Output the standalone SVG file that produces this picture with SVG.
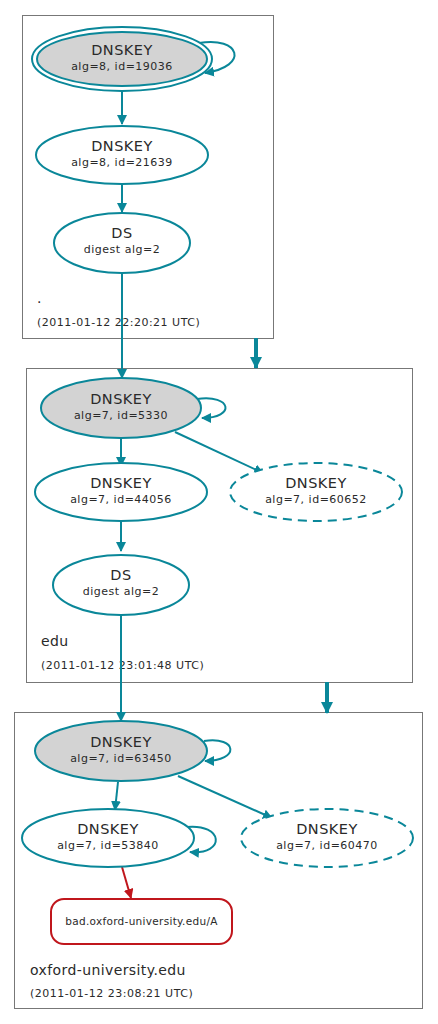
<svg xmlns="http://www.w3.org/2000/svg" width="438" height="1024" viewBox="0 0 438 1024">
<defs>
<style>
.cl{fill:#fff;stroke:#777;stroke-width:1}
.n{fill:#fff;stroke:#0a8799;stroke-width:2}
.k{fill:#d3d3d3;stroke:#0a8799;stroke-width:2}
.d{fill:#fff;stroke:#0a8799;stroke-width:2;stroke-dasharray:9,6}
.e{fill:none;stroke:#0a8799;stroke-width:2;marker-end:url(#a)}
.t{fill:none;stroke:#0a8799;stroke-width:4;marker-end:url(#at)}
.r{fill:none;stroke:#c0161c;stroke-width:2;marker-end:url(#ar)}
.b{fill:#fff;stroke:#c0161c;stroke-width:2}
text{font-family:"DejaVu Sans",sans-serif;fill:#2a2a2a}
.h{font-size:14.5px;text-anchor:middle;letter-spacing:0.5px}
.s{font-size:11px;text-anchor:middle;letter-spacing:0.5px}
.bt{font-size:10.5px;text-anchor:middle;letter-spacing:0.3px}
.z{font-size:14px;letter-spacing:0.4px}
.u{font-size:11px;letter-spacing:0.5px}
</style>
<marker id="a" markerWidth="10" markerHeight="10" refX="9" refY="5" orient="auto" markerUnits="userSpaceOnUse"><path d="M0,0 L10,5 L0,10 z" fill="#0a8799"/></marker>
<marker id="at" markerWidth="12" markerHeight="12" refX="11" refY="6" orient="auto" markerUnits="userSpaceOnUse"><path d="M0,0 L12,6 L0,12 z" fill="#0a8799"/></marker>
<marker id="ar" markerWidth="10" markerHeight="10" refX="9" refY="5" orient="auto" markerUnits="userSpaceOnUse"><path d="M0,0 L10,5 L0,10 z" fill="#c0161c"/></marker>
</defs>
<rect width="438" height="1024" fill="#fff"/>
<g id="cluster-root">
<rect class="cl" x="22.5" y="15.5" width="251" height="323"/>
<text class="z" x="37" y="303">.</text>
<text class="u" x="37" y="326">(2011-01-12 22:20:21 UTC)</text>
</g>
<g id="cluster-edu">
<rect class="cl" x="26.5" y="368.5" width="386" height="314"/>
<text class="z" x="41" y="646">edu</text>
<text class="u" x="41" y="669">(2011-01-12 23:01:48 UTC)</text>
</g>
<g id="cluster-oxford">
<rect class="cl" x="14.5" y="712.5" width="408" height="296"/>
<text class="z" x="30" y="975">oxford-university.edu</text>
<text class="u" x="30" y="997">(2011-01-12 23:08:21 UTC)</text>
</g>
<g id="connectors">
<path class="e" d="M199,43 C240,36 250,66 205,73"/>
<path class="e" d="M122,91 L122,124"/>
<path class="e" d="M122,184 L122,212"/>
<path class="e" d="M122,273 L122,378"/>
<path class="t" d="M256,338 L256,368"/>
<path class="e" d="M197,399 C232,394 236,418 202,418"/>
<path class="e" d="M121,438 L121,466"/>
<path class="e" d="M175,432 L263,473"/>
<path class="e" d="M121,521 L121,551"/>
<path class="e" d="M121,615 L121,721"/>
<path class="t" d="M327,682 L327,713"/>
<path class="e" d="M204,741 C238,736 240,761 205,761"/>
<path class="e" d="M118,782 L115,810"/>
<path class="e" d="M178,776 L272,818"/>
<path class="e" d="M186,827 C224,823 226,855 190,852"/>
<path class="r" d="M122,867 L131,898"/>
</g>
<g id="n-19036">
<ellipse class="n" cx="122" cy="59" rx="90" ry="32"/>
<ellipse class="k" cx="122" cy="59" rx="85" ry="27"/>
<text class="h" x="122" y="55">DNSKEY</text>
<text class="s" x="122" y="70">alg=8, id=19036</text>
</g>
<g id="n-21639">
<ellipse class="n" cx="122" cy="155" rx="86" ry="29"/>
<text class="h" x="122" y="151">DNSKEY</text>
<text class="s" x="122" y="166">alg=8, id=21639</text>
</g>
<g id="n-ds-root">
<ellipse class="n" cx="122" cy="243" rx="68" ry="30"/>
<text class="h" x="122" y="238">DS</text>
<text class="s" x="122" y="253">digest alg=2</text>
</g>
<g id="n-5330">
<ellipse class="k" cx="121" cy="408" rx="80" ry="30"/>
<text class="h" x="121" y="404">DNSKEY</text>
<text class="s" x="121" y="419">alg=7, id=5330</text>
</g>
<g id="n-44056">
<ellipse class="n" cx="121" cy="492" rx="86" ry="29"/>
<text class="h" x="121" y="488">DNSKEY</text>
<text class="s" x="121" y="503">alg=7, id=44056</text>
</g>
<g id="n-60652">
<ellipse class="d" cx="316" cy="492" rx="86" ry="29"/>
<text class="h" x="316" y="488">DNSKEY</text>
<text class="s" x="316" y="503">alg=7, id=60652</text>
</g>
<g id="n-ds-edu">
<ellipse class="n" cx="121" cy="585" rx="68" ry="30"/>
<text class="h" x="121" y="580">DS</text>
<text class="s" x="121" y="595">digest alg=2</text>
</g>
<g id="n-63450">
<ellipse class="k" cx="121" cy="751" rx="86" ry="30"/>
<text class="h" x="121" y="747">DNSKEY</text>
<text class="s" x="121" y="762">alg=7, id=63450</text>
</g>
<g id="n-53840">
<ellipse class="n" cx="108" cy="838" rx="86" ry="29"/>
<text class="h" x="108" y="834">DNSKEY</text>
<text class="s" x="108" y="849">alg=7, id=53840</text>
</g>
<g id="n-60470">
<ellipse class="d" cx="327" cy="838" rx="86" ry="29"/>
<text class="h" x="327" y="834">DNSKEY</text>
<text class="s" x="327" y="849">alg=7, id=60470</text>
</g>
<g id="n-bad">
<rect class="b" x="51" y="899" width="181" height="45" rx="13"/>
<text class="bt" x="141.5" y="925">bad.oxford-university.edu/A</text>
</g>
</svg>
